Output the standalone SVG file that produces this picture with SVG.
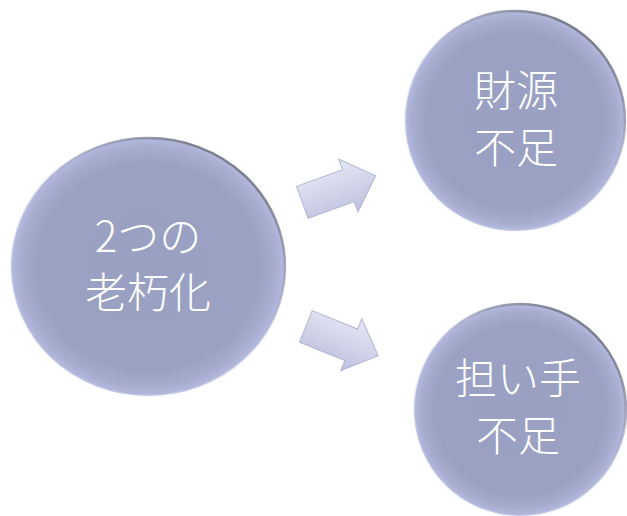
<svg xmlns="http://www.w3.org/2000/svg" width="627" height="516" viewBox="0 0 627 516">
<defs>
<radialGradient id="cg" cx="50%" cy="50%" r="50%">
<stop offset="0" stop-color="#99a0c1"/>
<stop offset="0.8" stop-color="#9aa1c3"/>
<stop offset="0.93" stop-color="#a7adcf"/>
<stop offset="1" stop-color="#b4b9de"/>
</radialGradient>
<linearGradient id="rim" x1="0.2" y1="0.9" x2="0.8" y2="0.1">
<stop offset="0" stop-color="#ffffff" stop-opacity="0.2"/>
<stop offset="0.5" stop-color="#b0b5d6" stop-opacity="0.4"/>
<stop offset="1" stop-color="#7b7e8e"/>
</linearGradient>
<linearGradient id="ag" x1="0" y1="0" x2="0" y2="1">
<stop offset="0" stop-color="#e6e8f4"/>
<stop offset="0.5" stop-color="#d2d5ea"/>
<stop offset="1" stop-color="#bcc0dc"/>
</linearGradient>
<path id="arrow" d="M-39,-17 L10,-17 L10,-28 L39,0 L10,28 L10,17 L-39,17 Z"/>
</defs>
<style>
.c{fill:url(#cg);stroke:url(#rim);stroke-width:2.5}
.t{fill:#ffffff;font-family:"Noto Sans CJK JP","Noto Sans CJK SC",sans-serif;font-weight:300;text-anchor:middle}
.a{fill:url(#ag);stroke:#b0b4d0;stroke-width:1}
</style>
<g id="connectors">
<use href="#arrow" class="a" transform="translate(339,189) rotate(-20)"/>
<use href="#arrow" class="a" transform="translate(342,341) rotate(22)"/>
</g>
<g id="node-main">
<ellipse class="c" cx="148" cy="267" rx="137" ry="129"/>
<text class="t" font-size="42" x="148" y="252">2つの</text>
<text class="t" font-size="42" x="148" y="308">老朽化</text>
</g>
<g id="node-zaigen">
<circle class="c" cx="515" cy="121" r="110"/>
<text class="t" font-size="42" x="516" y="106">財源</text>
<text class="t" font-size="42" x="516" y="163">不足</text>
</g>
<g id="node-ninaite">
<circle class="c" cx="520" cy="410" r="106"/>
<text class="t" font-size="42" x="518" y="394">担い手</text>
<text class="t" font-size="42" x="518" y="451">不足</text>
</g>
</svg>
